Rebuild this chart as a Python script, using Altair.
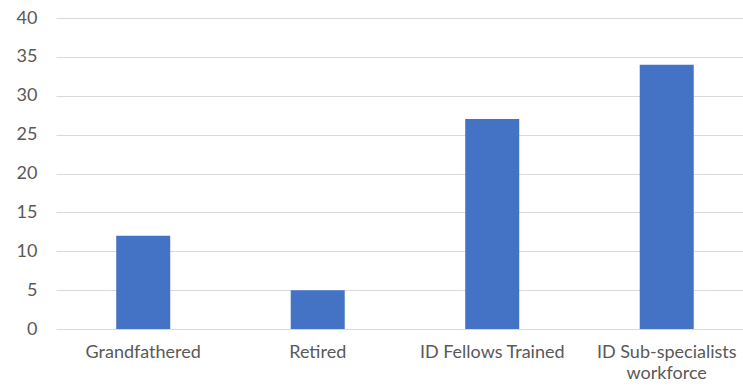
import altair as alt
import pandas as pd

# Headcounts per category
categories = ["Grandfathered", "Retired", "ID Fellows Trained", "ID Sub-specialists workforce"]
counts = [12, 5, 27, 34]

df = pd.DataFrame({"category": categories, "count": counts})

label_expr = (
    "datum.label == 'ID Sub-specialists workforce' "
    "? ['ID Sub-specialists', 'workforce'] : datum.label"
)

chart = (
    alt.Chart(df)
    .mark_bar(color="#4472C4")
    .encode(
        x=alt.X(
            "category:N",
            sort=categories,
            title=None,
            scale=alt.Scale(paddingInner=0.6905, paddingOuter=0.3137, align=0.55),
            axis=alt.Axis(
                labelAngle=0,
                labelExpr=label_expr,
                labelFont="Lato",
                labelFontSize=18,
                labelColor="#595959",
                labelPadding=14,
                labelLineHeight=21,
                ticks=False,
                domain=False,
                grid=False,
            ),
        ),
        y=alt.Y(
            "count:Q",
            title=None,
            scale=alt.Scale(domain=[0, 40], nice=False),
            axis=alt.Axis(
                values=[0, 5, 10, 15, 20, 25, 30, 35, 40],
                labelFont="Lato",
                labelFontSize=18,
                labelColor="#595959",
                labelPadding=19,
                ticks=False,
                domain=False,
                gridColor="#d9d9d9",
                gridWidth=1.2,
            ),
        ),
    )
    .properties(
        width=687,
        height=311,
        background="white",
        autosize=alt.AutoSizeParams(type="none"),
        padding={"left": 56, "top": 18, "right": 0, "bottom": 57},
    )
    .configure_view(strokeWidth=0)
)

chart.save("out.html", embed_options={"renderer": "svg", "actions": False})
